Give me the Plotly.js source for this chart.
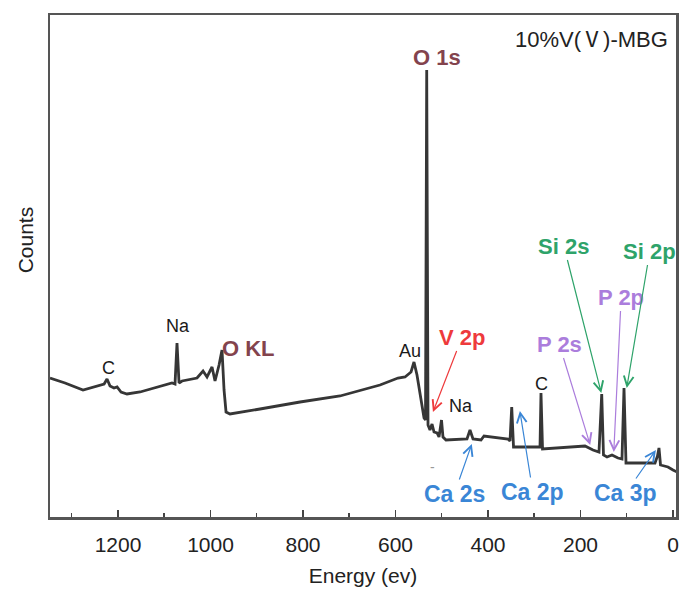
<!DOCTYPE html>
<html>
<head>
<meta charset="utf-8">
<script src="https://cdn.plot.ly/plotly-3.0.1.min.js"></script>
<style>
  html, body { margin: 0; padding: 0; background: #fff; }
  #chart { width: 681px; height: 596px; }
</style>
</head>
<body>
<div id="chart"></div>
<script>
// XPS survey spectrum of 10%V(V)-MBG: binding energy (eV) and counts (a.u.)
const energy = [
  1347, 1314.5, 1275.6, 1243, 1230, 1223.7, 1217.2, 1208.6, 1202, 1193.4,
  1180.5, 1152.3, 1115.6, 1083.2, 1076.7, 1072.4, 1068, 1061.5, 1029.1, 1016.1,
  1007.5, 996.7, 990.2, 981.5, 975.1, 970.7, 966.4, 957.8, 892.9, 806.4,
  720, 633.5, 594.6, 579.4, 566.4, 560, 553.5, 547, 542.7, 538.3,
  535.1, 532.5, 529.7, 525.4, 521, 516.7, 510.2, 505.9, 500.5, 497.3,
  490.8, 445.4, 438.9, 432.4, 415.1, 408.6, 356.7, 352.4, 348.7, 344.8,
  287.5, 285.4, 282.1, 244.3, 190.3, 173, 160, 154.1, 150.3, 142.7,
  131.9, 118.9, 110.3, 105.9, 101.6, 71.3, 38.9, 33.5, 30.3, 27,
  10.8, 0, -8.6
];
const counts = [
  139, 134, 127, 131, 133, 138, 131, 129, 130, 125,
  123, 125, 130, 134, 133, 174, 134, 136, 139, 146,
  140, 150, 136, 152, 167, 127, 105, 103, 108, 115,
  121, 132, 139, 140, 145, 155, 142, 125, 112, 99,
  97, 447, 92, 87, 93, 85, 84, 80, 97, 80,
  77, 78, 87, 78, 77, 81, 78, 76, 110, 70,
  70, 124, 68, 69, 71, 67, 65, 123, 62, 60,
  62, 59, 58, 129, 54, 54, 54, 61, 69, 52,
  50, 47, 45
];

// Peak assignments: label, text position [eV, counts], arrow tip [eV, counts] (null = no arrow)
const peakLabels = ['O 1s', 'O KL', 'C', 'Na', 'Au', 'Na', 'C',
                    'V 2p', 'P 2s', 'P 2p', 'Si 2s', 'Si 2p', 'Ca 2s', 'Ca 2p', 'Ca 3p'];
const labelPos = [[510, 460], [917, 169], [1221, 149], [1070, 191], [569, 166], [458, 111], [285, 133],
                  [456, 180], [246, 173], [112, 220], [236, 271], [50, 266], [473, 23], [303, 25], [102, 24]];
const arrowTip = [null, null, null, null, null, null, null,
                  [519, 105], [179, 72], [128, 65], [155, 124], [100, 129], [435, 73], [331, 106], [37, 67]];
const labelKind = ['o', 'o', 'k', 'k', 'k', 'k', 'k',
                   'v', 'p', 'p', 'si', 'si', 'ca', 'ca', 'ca'];

const kindStyle = {
  o:  {color: '#83434d', bold: true,  size: 22},
  k:  {color: '#1a1a1a', bold: false, size: 18},
  v:  {color: '#ee3a3c', bold: true,  size: 22},
  p:  {color: '#ab7ddc', bold: true,  size: 22},
  si: {color: '#2ea36a', bold: true,  size: 22},
  ca: {color: '#3a86d6', bold: true,  size: 23}
};

const FONT = 'Liberation Sans, Arial, sans-serif';

const annotations = peakLabels.map((lab, i) => {
  const st = kindStyle[labelKind[i]];
  const txt = st.bold ? '<b>' + lab + '</b>' : lab;
  const base = {
    text: txt,
    font: {family: FONT, size: st.size, color: st.color},
    xanchor: 'center', yanchor: 'middle'
  };
  if (arrowTip[i]) {
    return Object.assign(base, {
      x: arrowTip[i][0], y: arrowTip[i][1], xref: 'x', yref: 'y',
      ax: labelPos[i][0], ay: labelPos[i][1], axref: 'x', ayref: 'y',
      showarrow: true, arrowhead: 5, arrowsize: 1.6, arrowwidth: 1.2,
      arrowcolor: st.color, standoff: 0, startstandoff: 0
    });
  }
  return Object.assign(base, {
    x: labelPos[i][0], y: labelPos[i][1], xref: 'x', yref: 'y', showarrow: false
  });
});

// sample name in the upper right corner
annotations.push({
  text: '10%V(<span style="font-family:\'Noto Sans CJK SC\'">Ⅴ</span>)-MBG',
  x: 0.99, y: 0.956, xref: 'paper', yref: 'paper', xanchor: 'right', yanchor: 'middle',
  showarrow: false,
  font: {family: FONT, size: 22, color: '#222'}
});
// small grey dash below the O 1s region
annotations.push({
  text: '-', x: 519, y: 50, xref: 'x', yref: 'y', showarrow: false,
  font: {family: FONT, size: 14, color: '#999'}
});
// y-axis title
annotations.push({
  text: 'Counts', x: -0.04, y: 0.553, xref: 'paper', yref: 'paper',
  xanchor: 'center', yanchor: 'middle', textangle: -90, showarrow: false,
  font: {family: FONT, size: 21, color: '#222'}
});

const trace = {
  x: energy, y: counts, type: 'scatter', mode: 'lines',
  line: {color: '#363636', width: 2.8},
  hoverinfo: 'x+y'
};

const layout = {
  width: 681, height: 596,
  margin: {l: 50, r: 5, t: 15, b: 79},
  paper_bgcolor: '#fff', plot_bgcolor: '#fff',
  showlegend: false,
  font: {family: FONT, color: '#222'},
  xaxis: {
    range: [1347, -6.5], autorange: false,
    tickvals: [1200, 1000, 800, 600, 400, 200, 0],
    ticks: 'inside', ticklen: 7, tickwidth: 1.5, tickcolor: '#444',
    minor: {tickvals: [1300, 1100, 900, 700, 500, 300, 100], ticks: 'inside', ticklen: 4, tickwidth: 1.5, tickcolor: '#444'},
    showline: true, linecolor: '#555', linewidth: 2.5, mirror: true,
    showgrid: false, zeroline: false,
    ticklabelstandoff: 7,
    tickfont: {size: 21, color: '#222'},
    title: {text: 'Energy (ev)', font: {size: 21, color: '#222'}, standoff: 14}
  },
  yaxis: {
    range: [0, 502], autorange: false,
    showticklabels: false, ticks: '',
    showline: true, linecolor: '#555', linewidth: 2.5, mirror: true,
    showgrid: false, zeroline: false
  },
  annotations: annotations
};

Plotly.newPlot('chart', [trace], layout, {displayModeBar: false, staticPlot: true});
</script>
</body>
</html>
